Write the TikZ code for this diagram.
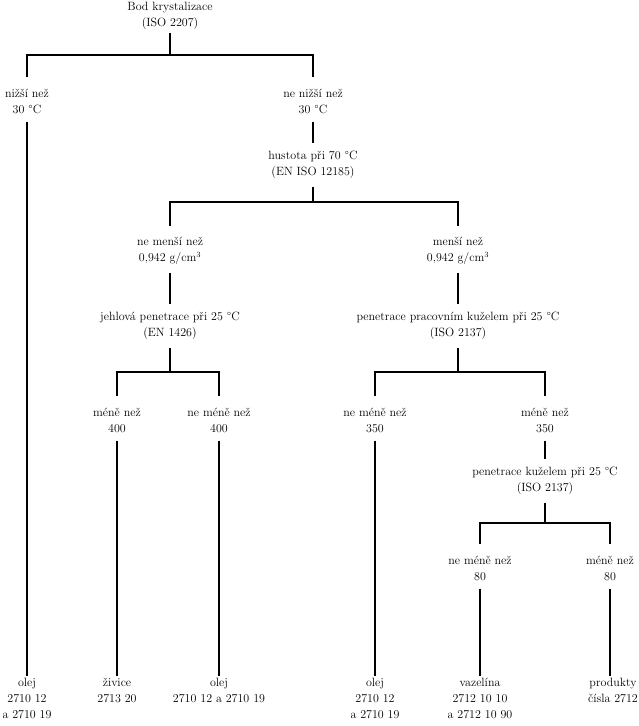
\documentclass[tikz,border=0pt]{standalone}
\usepackage{fontspec}
\usepackage{tikz}
\usetikzlibrary{positioning}

\begin{document}
\begin{tikzpicture}[
x=1pt, y=-1pt,
font=\fontsize{12}{16}\selectfont,
crit/.style={align=center, inner xsep=1pt, inner ysep=8pt},
leaf/.style={align=center, anchor=north, inner xsep=1pt, inner ysep=2pt},
conn/.style={line width=1.6pt}
]
\useasboundingbox (0,0) rectangle (638,726);

% criteria and outcomes
\node[crit, inner ysep=3pt] (root) at (170,16) {Bod krystalizace\\(ISO 2207)};
\node[crit] (low) at (27,101) {nižší než\\30 °C};
\node[crit] (high) at (313,101) {ne nižší než\\30 °C};
\node[crit] (dens) at (313,165) {hustota při 70 °C\\(EN ISO 12185)};
\node[crit] (heavy) at (170,251) {ne menší než\\0,942 g/cm\textsuperscript{3}};
\node[crit] (light) at (458,251) {menší než\\0,942 g/cm\textsuperscript{3}};
\node[crit] (needle) at (170,326) {jehlová penetrace při 25 °C\\(EN 1426)};
\node[crit] (cone) at (458,326) {penetrace pracovním kuželem při 25 °C\\(ISO 2137)};
\node[crit] (nlow) at (117,420) {méně než\\400};
\node[crit] (nhigh) at (219,420) {ne méně než\\400};
\node[crit] (chigh) at (375,420) {ne méně než\\350};
\node[crit] (clow) at (545,420) {méně než\\350};
\node[crit] (cone2) at (545,481) {penetrace kuželem při 25 °C\\(ISO 2137)};
\node[crit] (khigh) at (480,568) {ne méně než\\80};
\node[crit] (klow) at (610,568) {méně než\\80};

\node[leaf] (oil1) at (27,676) {olej\\2710 12\\a 2710 19};
\node[leaf] (resin) at (117,676) {živice\\2713 20};
\node[leaf] (oil2) at (219,676) {olej\\2710 12 a 2710 19};
\node[leaf] (oil3) at (375,676) {olej\\2710 12\\a 2710 19};
\node[leaf] (vasel) at (480,676) {vazelína\\2712 10 10\\a 2712 10 90};
\node[leaf] (prod) at (613,676) {produkty\\čísla 2712};

% branch points
\coordinate (b1) at (170,55);
\coordinate (b2) at (313,202);
\coordinate (b3) at (170,372);
\coordinate (b4) at (458,372);
\coordinate (b5) at (545,523);

\draw[conn] (root) -- (b1);
\draw[conn] ([yshift=3pt]low.north) |- (b1) -| ([yshift=3pt]high.north);
\draw[conn] (high) -- (dens);
\draw[conn] (dens) -- (b2);
\draw[conn] ([yshift=3pt]heavy.north) |- (b2) -| ([yshift=3pt]light.north);
\draw[conn] (heavy) -- (needle);
\draw[conn] (light) -- (cone);
\draw[conn] (needle) -- (b3);
\draw[conn] ([yshift=3pt]nlow.north) |- (b3) -| ([yshift=3pt]nhigh.north);
\draw[conn] (cone) -- (b4);
\draw[conn] ([yshift=3pt]chigh.north) |- (b4) -| ([yshift=3pt]clow.north);
\draw[conn] (clow) -- (cone2);
\draw[conn] (cone2) -- (b5);
\draw[conn] ([yshift=3pt]khigh.north) |- (b5) -| ([yshift=3pt]klow.north);
\draw[conn] (low) -- (oil1);
\draw[conn] (nlow) -- (resin);
\draw[conn] (nhigh) -- (oil2);
\draw[conn] (chigh) -- (oil3);
\draw[conn] (khigh) -- (vasel);
\draw[conn] (klow) -- (klow.south |- prod.north);
\end{tikzpicture}
\end{document}
